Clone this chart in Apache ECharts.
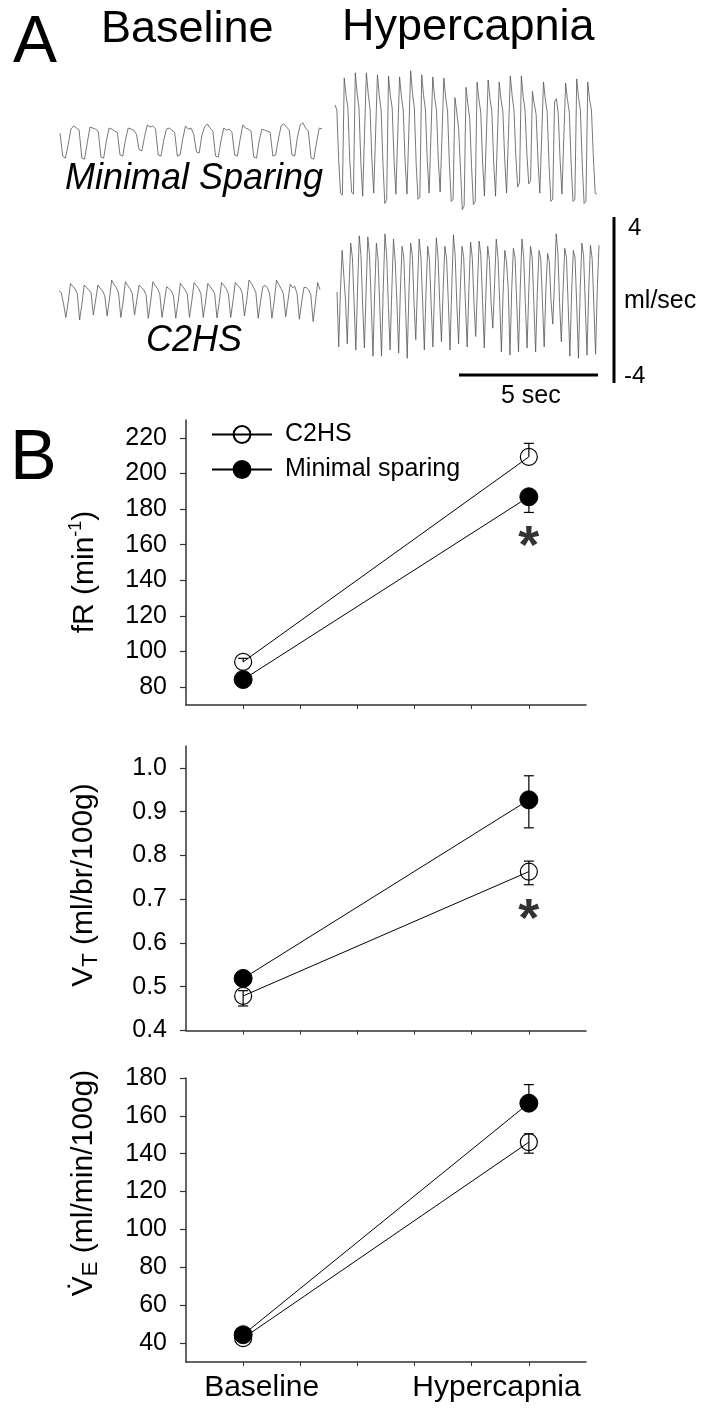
<!DOCTYPE html>
<html>
<head>
<meta charset="utf-8">
<script src="https://cdn.jsdelivr.net/npm/echarts@6/dist/echarts.min.js"></script>
<style>
  html, body { margin: 0; padding: 0; background: #fff; }
  #chart { width: 706px; height: 1410px; }
</style>
</head>
<body>
<div id="chart"></div>
<script>
// Panel A: airflow traces (ml/sec), evenly sampled over ~9.4 s each
const baselineMinimal = [
  0.35, -0.75, -0.85, -0.2, 0.55, 0.7, 0.6,
  0.5, -0.85, -0.9, -0.1, 0.65, 0.6, 0.55,
  0.45, -0.8, -0.85, 0.0, 0.6, 0.55, 0.45,
  0.4, -0.7, -0.75, 0.05, 0.6, 0.55, 0.5,
  0.3, -0.45, -0.5, 0.2, 0.75, 0.65, 0.7,
  0.55, -0.7, -0.75, 0.0, 0.55, 0.6, 0.5,
  0.4, -0.75, -0.7, 0.1, 0.7, 0.55, 0.6,
  0.3, -0.55, -0.6, 0.25, 0.65, 0.8, 0.6,
  0.45, -0.75, -0.8, 0.0, 0.6, 0.5, 0.55,
  0.4, -0.7, -0.75, 0.05, 0.75, 0.6, 0.55,
  0.45, -0.8, -0.85, 0.0, 0.55, 0.5, 0.45,
  0.4, -0.75, -0.7, 0.05, 0.7, 0.8, 0.65,
  0.5, -0.7, -0.75, 0.15, 0.75, 0.85, 0.6,
  0.45, -0.85, -0.9, -0.1, 0.6, 0.55
];
const hyperMinimal = [
  1.45, 1.2, -1.2, -2.8, -2.9,
  2.75, 1.9, 1.3, -1.2, -2.75, -2.85,
  3.0, 2.0, 1.3, -1.3, -2.95, -2.9,
  3.0, 2.0, 1.25, -1.2, -2.8, -2.85,
  2.9, 1.9, 1.2, -1.4, -3.3, -3.1,
  2.85, 1.9, 1.3, -1.2, -2.85, -2.8,
  2.8, 1.85, 1.2, -1.3, -2.85, -2.9,
  3.1, 2.0, 1.3, -1.4, -3.1, -3.0,
  2.9, 1.9, 1.25, -1.2, -2.8, -2.85,
  2.8, 1.8, 1.2, -1.2, -2.75, -2.8,
  2.75, 1.8, 1.15, -1.4, -3.2, -3.1,
  1.8, 1.1, 0.3, -1.6, -3.6, -3.4,
  2.3, 1.5, 0.8, -1.5, -3.35, -3.2,
  2.55, 1.7, 1.1, -1.3, -2.95, -3.0,
  2.65, 1.75, 1.15, -1.3, -2.95, -2.9,
  2.55, 1.7, 1.1, -1.2, -2.8, -2.85,
  2.85, 1.9, 1.2, -1.0, -2.5, -2.3,
  2.85, 1.85, 1.2, -0.9, -2.35, -2.2,
  2.1, 1.5, 1.0, -1.2, -2.8, -2.85,
  2.55, 1.7, 1.1, -1.4, -3.2, -3.1,
  1.6, 1.75, 1.0, -1.2, -2.85, -2.9,
  2.5, 1.7, 1.1, -1.4, -3.2, -3.1,
  2.7, 1.8, 1.2, -1.4, -3.3, -3.2,
  2.55, 1.7, 1.2, -1.0, -2.8, -2.85
];
const baselineC2HS = [
  0.45, 0.35, -0.2,
  -0.84, -0.1, 0.8, 0.65, 0.55, 0.3,
  -0.96, -0.2, 0.72, 0.6, 0.5, 0.35,
  -0.72, 0.0, 0.72, 0.55, 0.45, 0.2,
  -0.77, 0.0, 0.96, 0.75, 0.6, 0.35,
  -0.84, -0.1, 0.88, 0.7, 0.55, 0.3,
  -0.72, 0.0, 0.72, 0.6, 0.5, 0.25,
  -0.88, -0.1, 0.88, 0.7, 0.55, 0.3,
  -0.84, -0.1, 0.64, 0.55, 0.45, 0.2,
  -0.88, -0.1, 0.8, 0.65, 0.5, 0.3,
  -0.84, -0.05, 0.84, 0.7, 0.55, 0.3,
  -0.84, -0.1, 0.8, 0.65, 0.5, 0.3,
  -0.86, -0.1, 0.84, 0.7, 0.55, 0.3,
  -0.84, -0.05, 0.84, 0.7, 0.6, 0.35,
  -0.77, 0.0, 0.96, 0.8, 0.6, 0.35,
  -0.88, -0.1, 0.64, 0.7, 0.6, 0.3,
  -0.88, -0.05, 0.96, 0.75, 0.55, 0.3,
  -0.8, -0.05, 0.76, 0.6, 0.65, 0.3,
  -0.93, -0.1, 0.61, 0.6, 0.5, 0.25,
  -1.04, -0.1, 0.84, 0.5
];
const hyperC2HS = [
  0.15,
  -2.5, 0.2, 2.15, 2.1, -0.3,
  -2.35, 0.3, 2.5, 1.8, -0.4,
  -2.65, 0.3, 2.85, 1.9, -0.5,
  -2.55, 0.2, 2.8, 1.9, -0.4,
  -2.95, 0.1, 2.5, 1.7, -0.6,
  -2.95, 0.3, 2.95, 1.9, -0.5,
  -2.65, 0.2, 2.7, 1.6, -0.4,
  -2.8, 0.2, 2.35, 1.8, -0.5,
  -3.05, 0.1, 2.5, 1.9, -0.4,
  -2.15, 0.4, 2.7, 1.8, -0.3,
  -2.65, 0.2, 2.35, 1.7, -0.5,
  -2.5, 0.3, 2.75, 1.85, -0.4,
  -2.25, 0.3, 2.35, 1.75, -0.3,
  -2.65, 0.3, 2.9, 1.9, -0.5,
  -2.35, 0.3, 2.35, 1.8, -0.4,
  -2.5, 0.2, 2.55, 1.8, -0.4,
  -2.0, 0.4, 2.6, 1.9, -0.3,
  -2.55, 0.2, 2.35, 1.7, -0.4,
  -1.6, 0.5, 2.7, 1.8, -0.3,
  -2.75, 0.1, 2.15, 1.6, 0.3,
  -2.9, 0.2, 2.25, 1.8, -0.5,
  -2.75, 0.3, 2.7, 1.85, -0.4,
  -2.55, 0.2, 2.35, 1.8, -0.5,
  -2.75, 0.2, 2.15, 1.75, -0.4,
  -2.5, 0.3, 2.0, 1.6, -0.3,
  -1.4, 0.6, 2.95, 2.0, -0.4,
  -2.25, 0.2, 2.25, 1.8, -0.5,
  -2.95, 0.1, 2.15, 1.8, -0.5,
  -3.05, 0.2, 2.5, 1.9, -0.5,
  -2.9, 0.2, 2.4, 1.75, -0.5,
  -2.85, 0.3, 2.4
];

// Panel B: group means and error bars (up / down) at each condition
const conditions = ['Baseline', 'Hypercapnia'];
const groups = ['C2HS', 'Minimal sparing'];

const fRC2HS = [94.2, 209.3];
const fRC2HSUp = [2.0, 7.6];
const fRC2HSDown = [0, 0];
const fRMinimal = [84.3, 186.9];
const fRMinimalUp = [0, 0];
const fRMinimalDown = [3.0, 8.8];
const fRStars = ['', '*'];
const fRTicks = [80, 100, 120, 140, 160, 180, 200, 220];

const vtC2HS = [0.479, 0.763];
const vtC2HSUp = [0.012, 0.024];
const vtC2HSDown = [0.023, 0.030];
const vtMinimal = [0.519, 0.927];
const vtMinimalUp = [0.01, 0.055];
const vtMinimalDown = [0.01, 0.064];
const vtStars = ['', '*'];
const vtTicks = [0.4, 0.5, 0.6, 0.7, 0.8, 0.9, 1.0];

const veC2HS = [42.6, 146.1];
const veC2HSUp = [1.0, 4.4];
const veC2HSDown = [1.0, 5.8];
const veMinimal = [44.4, 166.7];
const veMinimalUp = [1.5, 9.8];
const veMinimalDown = [0, 0];
const veStars = ['', ''];
const veTicks = [40, 60, 80, 100, 120, 140, 160, 180];

const xTickSlots = [1, 2, 3, 4, 5, 6];

const FONT = "'Liberation Sans', Arial, Helvetica, sans-serif";
const AXIS_COLOR = '#333';

const chart = echarts.init(document.getElementById('chart'));

// trace grids (each y axis spans -4..4 ml/sec like the scale bar)
const traces = [
  { data: baselineMinimal, left: 60, top: 57.5, width: 262 },
  { data: hyperMinimal, left: 335, top: 52, width: 262 },
  { data: baselineC2HS, left: 59, top: 217, width: 261 },
  { data: hyperC2HS, left: 337, top: 212, width: 262 }
];

const panels = [
  { top: 420, height: 285, min: 70, max: 230, ticks: fRTicks, digits: 0,
    c2hs: fRC2HS, c2hsUp: fRC2HSUp, c2hsDown: fRC2HSDown,
    ms: fRMinimal, msUp: fRMinimalUp, msDown: fRMinimalDown, stars: fRStars },
  { top: 746, height: 284.5, min: 0.4, max: 1.05, ticks: vtTicks, digits: 1,
    c2hs: vtC2HS, c2hsUp: vtC2HSUp, c2hsDown: vtC2HSDown,
    ms: vtMinimal, msUp: vtMinimalUp, msDown: vtMinimalDown, stars: vtStars },
  { top: 1078, height: 284, min: 30, max: 180, ticks: veTicks, digits: 0,
    c2hs: veC2HS, c2hsUp: veC2HSUp, c2hsDown: veC2HSDown,
    ms: veMinimal, msUp: veMinimalUp, msDown: veMinimalDown, stars: veStars }
];

const grid = [], xAxis = [], yAxis = [], series = [];

traces.forEach((t, i) => {
  grid.push({ left: t.left, top: t.top, width: t.width, height: 166 });
  xAxis.push({ gridIndex: i, type: 'value', min: 0, max: t.data.length - 1, show: false });
  yAxis.push({ gridIndex: i, type: 'value', min: -4, max: 4, show: false });
  series.push({
    type: 'line', xAxisIndex: i, yAxisIndex: i,
    data: t.data.map((v, k) => [k, v]),
    symbol: 'none', silent: true,
    lineStyle: { color: '#555', width: 0.8 }
  });
});

// condition index -> slot on the 0..7 x scale
const slot = i => 1 + 5 * i;

function errorBars(params, api) {
  const x = api.value(0), y = api.value(1), up = api.value(2), down = api.value(3);
  const top = api.coord([x, y + up]);
  const bot = api.coord([x, y - down]);
  const style = { stroke: '#000', lineWidth: 1.2 };
  const cap = 5;
  const children = [{ type: 'line', shape: { x1: top[0], y1: top[1], x2: bot[0], y2: bot[1] }, style }];
  if (up > 0) children.push({ type: 'line', shape: { x1: top[0] - cap, y1: top[1], x2: top[0] + cap, y2: top[1] }, style });
  if (down > 0) children.push({ type: 'line', shape: { x1: bot[0] - cap, y1: bot[1], x2: bot[0] + cap, y2: bot[1] }, style });
  return { type: 'group', children };
}

panels.forEach((p, k) => {
  const gi = traces.length + k;
  grid.push({ left: 186, width: 400, top: p.top, height: p.height });
  xAxis.push({
    gridIndex: gi, type: 'value', min: 0, max: 7,
    axisLine: { show: true, onZero: false, lineStyle: { color: AXIS_COLOR, width: 1.5 } },
    axisTick: { show: true, length: 4, customValues: xTickSlots, lineStyle: { color: AXIS_COLOR, width: 1 } },
    axisLabel: { show: false },
    splitLine: { show: false }
  });
  yAxis.push({
    gridIndex: gi, type: 'value', min: p.min, max: p.max,
    axisLine: { show: true, onZero: false, lineStyle: { color: AXIS_COLOR, width: 1.5 } },
    axisTick: { show: true, length: 6, customValues: p.ticks, lineStyle: { color: AXIS_COLOR, width: 1.2 } },
    axisLabel: {
      customValues: p.ticks, margin: 19, fontSize: 25, color: '#000', fontFamily: FONT,
      formatter: v => Number(v).toFixed(p.digits)
    },
    splitLine: { show: false }
  });

  const barData = (m, up, down) => m.map((v, i) => [slot(i), v, up[i], down[i]]);
  series.push({
    type: 'custom', xAxisIndex: gi, yAxisIndex: gi, z: 1, silent: true,
    renderItem: errorBars, data: barData(p.c2hs, p.c2hsUp, p.c2hsDown)
  });
  series.push({
    type: 'custom', xAxisIndex: gi, yAxisIndex: gi, z: 1, silent: true,
    renderItem: errorBars, data: barData(p.ms, p.msUp, p.msDown)
  });
  series.push({
    name: groups[0], type: 'line', xAxisIndex: gi, yAxisIndex: gi, z: 3,
    data: p.c2hs.map((v, i) => [slot(i), v]),
    symbol: 'circle', symbolSize: 17,
    itemStyle: { color: 'rgba(255,255,255,0)', borderColor: '#000', borderWidth: 1.2 },
    lineStyle: { color: '#000', width: 1 }
  });
  series.push({
    name: groups[1], type: 'line', xAxisIndex: gi, yAxisIndex: gi, z: 3,
    data: p.ms.map((v, i) => [slot(i), v]),
    symbol: 'circle', symbolSize: 18,
    itemStyle: { color: '#000', borderColor: '#000', borderWidth: 1 },
    lineStyle: { color: '#000', width: 1 }
  });
  // significance star sits under the lower error bar of that condition
  const starData = [];
  p.stars.forEach((s, i) => {
    if (!s) return;
    const low = Math.min(p.c2hs[i] - p.c2hsDown[i], p.ms[i] - p.msDown[i]);
    starData.push({ value: [slot(i), low], star: s });
  });
  if (starData.length) {
    series.push({
      type: 'scatter', xAxisIndex: gi, yAxisIndex: gi, silent: true, z: 4,
      data: starData, symbolSize: 1, itemStyle: { color: 'rgba(0,0,0,0)' },
      label: {
        show: true, position: 'inside', offset: [0, 36],
        formatter: d => d.data.star,
        fontSize: 54, fontWeight: 'bold', color: '#000', fontFamily: FONT
      }
    });
  }
});

const txt = (text, x, y, size, extra) => ({
  type: 'text', x, y, silent: true,
  style: Object.assign({ text, fill: '#000', fontSize: size, fontFamily: FONT, align: 'left', verticalAlign: 'middle' }, extra || {})
});
const richBase = { fontSize: 30, fontFamily: FONT, fill: '#000', lineHeight: 36, verticalAlign: 'middle' };
const yName = (text, x, y) => ({
  type: 'text', x, y, rotation: Math.PI / 2, silent: true,
  style: {
    text, align: 'center', verticalAlign: 'middle', fill: '#000',
    rich: {
      t: richBase,
      sup: { fontSize: 18, fontFamily: FONT, fill: '#000', lineHeight: 20, verticalAlign: 'top' },
      sub: { fontSize: 22, fontFamily: FONT, fill: '#000', lineHeight: 20, verticalAlign: 'bottom' }
    }
  }
});

const graphic = [
  txt('A', 13, 43.5, 66),
  txt(conditions[0], 101, 30, 45),
  txt(conditions[1], 342, 27.5, 45),
  txt('Minimal Sparing', 65, 179, 36, { fontStyle: 'italic' }),
  txt('C2HS', 146, 340.5, 36, { fontStyle: 'italic' }),
  { type: 'line', silent: true, shape: { x1: 614, y1: 217, x2: 614, y2: 383 }, style: { stroke: '#000', lineWidth: 3 } },
  { type: 'line', silent: true, shape: { x1: 459, y1: 375, x2: 598, y2: 375 }, style: { stroke: '#000', lineWidth: 3 } },
  txt('4', 628, 228, 24),
  txt('ml/sec', 624, 301, 25),
  txt('-4', 624, 376.5, 24),
  txt('5 sec', 501, 396, 25),
  txt('B', 10, 460, 70),
  yName('{t|fR (min}{sup|-1}{t|)}', 85, 572),
  yName('{t|V}{sub|T}{t| (ml/br/100g)}', 84, 885),
  yName('{t|V\u0307}{sub|E}{t| (ml/min/100g)}', 84, 1183),
  txt(conditions[0], 261.7, 1387.5, 30, { align: 'center' }),
  txt(conditions[1], 496.5, 1387.5, 30, { align: 'center' })
];

chart.setOption({
  animation: false,
  textStyle: { fontFamily: FONT },
  grid, xAxis, yAxis, series, graphic,
  legend: {
    data: groups, orient: 'vertical', left: 211, top: 422, padding: 0,
    itemWidth: 60, itemHeight: 21, itemGap: 10, selectedMode: false,
    textStyle: { fontFamily: FONT, fontSize: 25, color: '#000', padding: [0, 0, 0, 8] }
  }
});
</script>
</body>
</html>
